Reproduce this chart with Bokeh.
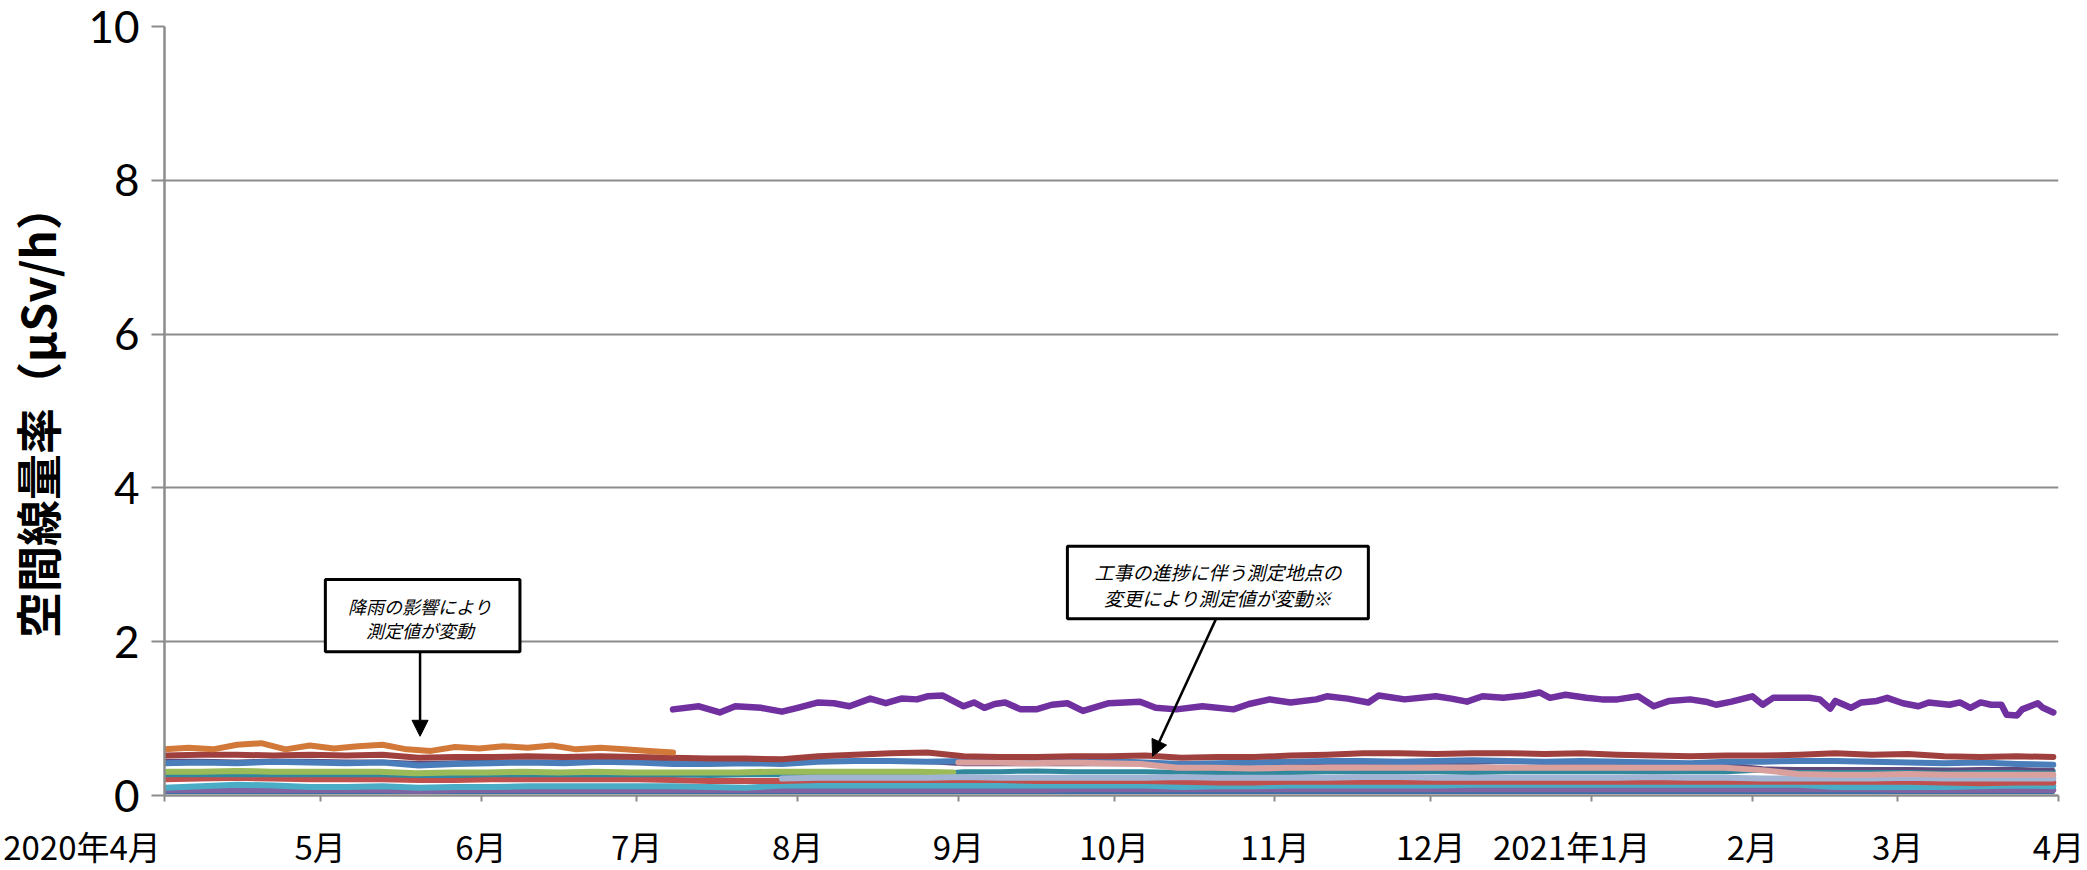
import pandas as pd
from bokeh.plotting import figure
from bokeh.models import Range1d, FixedTicker, Arrow, NormalHead
from bokeh.core.properties import value
from bokeh.embed import file_html
from bokeh.resources import INLINE

# ---------------- data ----------------
month_starts = ["2020-04-01", "2020-05-01", "2020-06-01", "2020-07-01", "2020-08-01",
                "2020-09-01", "2020-10-01", "2020-11-01", "2020-12-01", "2021-01-01",
                "2021-02-01", "2021-03-01", "2021-04-01"]
month_labels = ["2020年4月", "5月", "6月", "7月", "8月", "9月", "10月", "11月", "12月",
                "2021年1月", "2月", "3月", "4月"]
y_ticks = [0, 2, 4, 6, 8, 10]

# big purple series (explicit dates)
purple_dates = [
    "2020-07-08", "2020-07-13", "2020-07-17", "2020-07-20", "2020-07-25", "2020-07-29",
    "2020-08-01", "2020-08-05", "2020-08-08", "2020-08-11", "2020-08-15", "2020-08-18",
    "2020-08-21", "2020-08-24", "2020-08-26", "2020-08-29",
    "2020-09-02", "2020-09-04", "2020-09-06", "2020-09-08", "2020-09-10", "2020-09-13",
    "2020-09-16", "2020-09-19", "2020-09-22", "2020-09-25", "2020-09-30",
    "2020-10-06", "2020-10-09", "2020-10-13", "2020-10-18", "2020-10-24", "2020-10-27", "2020-10-31",
    "2020-11-04", "2020-11-09", "2020-11-11", "2020-11-15", "2020-11-19", "2020-11-21", "2020-11-26",
    "2020-12-02", "2020-12-05", "2020-12-08", "2020-12-11", "2020-12-15", "2020-12-19",
    "2020-12-22", "2020-12-24", "2020-12-27", "2020-12-31",
    "2021-01-03", "2021-01-06", "2021-01-10", "2021-01-13", "2021-01-16", "2021-01-20",
    "2021-01-23", "2021-01-25", "2021-01-28",
    "2021-02-01", "2021-02-03", "2021-02-05", "2021-02-09", "2021-02-12", "2021-02-14",
    "2021-02-16", "2021-02-17", "2021-02-20", "2021-02-22", "2021-02-25", "2021-02-27",
    "2021-03-02", "2021-03-05", "2021-03-07", "2021-03-11", "2021-03-13", "2021-03-15",
    "2021-03-17", "2021-03-19", "2021-03-21", "2021-03-22", "2021-03-24", "2021-03-25",
    "2021-03-28", "2021-03-29", "2021-03-31"]
purple_vals = [
    1.12, 1.16, 1.08, 1.16, 1.14, 1.09,
    1.14, 1.21, 1.20, 1.16, 1.26, 1.20, 1.26, 1.25, 1.29, 1.30,
    1.16, 1.21, 1.14, 1.19, 1.21, 1.12, 1.12, 1.18, 1.20, 1.10, 1.20,
    1.22, 1.14, 1.12, 1.16, 1.12, 1.19, 1.25,
    1.21, 1.25, 1.29, 1.26, 1.21, 1.30, 1.25,
    1.29, 1.26, 1.22, 1.29, 1.27, 1.30, 1.34, 1.27, 1.31, 1.27,
    1.25, 1.25, 1.29, 1.16, 1.23, 1.25, 1.22, 1.18, 1.22,
    1.29, 1.18, 1.27, 1.27, 1.27, 1.25, 1.13, 1.23, 1.14, 1.21, 1.23, 1.27,
    1.20, 1.16, 1.21, 1.18, 1.21, 1.14, 1.21, 1.18, 1.18, 1.05, 1.04, 1.12, 1.20, 1.14, 1.08]

# series sampled evenly between a start and end date
orange_vals = [0.60, 0.62, 0.60, 0.66, 0.68, 0.60, 0.65, 0.61, 0.64, 0.66, 0.60,
               0.58, 0.63, 0.61, 0.64, 0.62, 0.65, 0.60, 0.62, 0.60, 0.58, 0.56]
darkred_vals = [0.52, 0.53, 0.53, 0.52, 0.53, 0.52, 0.53, 0.49, 0.50, 0.50,
                0.51, 0.50, 0.51, 0.50, 0.49, 0.48, 0.48, 0.47, 0.51, 0.53,
                0.55, 0.56, 0.51, 0.50, 0.50, 0.51, 0.51, 0.52, 0.49, 0.50,
                0.50, 0.52, 0.53, 0.55, 0.55, 0.54, 0.55, 0.55, 0.54, 0.55,
                0.53, 0.52, 0.51, 0.52, 0.52, 0.53, 0.55, 0.53, 0.54, 0.51,
                0.50, 0.51, 0.50]
blue_vals = [0.42, 0.43, 0.42, 0.44, 0.43, 0.42, 0.43, 0.39, 0.41, 0.42,
             0.43, 0.42, 0.44, 0.43, 0.41, 0.41, 0.42, 0.41, 0.44, 0.45,
             0.45, 0.44, 0.45, 0.44, 0.45, 0.44, 0.45, 0.43, 0.41, 0.42,
             0.43, 0.44, 0.45, 0.45, 0.44, 0.45, 0.46, 0.45, 0.44, 0.45,
             0.44, 0.43, 0.42, 0.44, 0.44, 0.45, 0.45, 0.44, 0.43, 0.42,
             0.43, 0.41, 0.40]
plum_vals = [0.46, 0.46, 0.45, 0.46, 0.46, 0.45, 0.45, 0.43, 0.44, 0.45,
             0.45, 0.45, 0.46, 0.45, 0.44, 0.44, 0.44, 0.44, 0.43, 0.43,
             0.43, 0.43, 0.40, 0.40, 0.40, 0.40, 0.40, 0.40, 0.39, 0.40,
             0.41, 0.41, 0.42, 0.42, 0.42, 0.42, 0.42, 0.43, 0.42, 0.42,
             0.42, 0.41, 0.40, 0.41, 0.36, 0.35, 0.35, 0.35, 0.35, 0.34,
             0.35, 0.35, 0.34]
green_vals = [0.31, 0.31, 0.32, 0.31, 0.31, 0.31, 0.31, 0.29, 0.30, 0.30, 0.31, 0.30,
              0.31, 0.30, 0.30, 0.30, 0.30, 0.31, 0.31, 0.31, 0.31, 0.31, 0.30]
teal_vals = [0.27, 0.27, 0.27, 0.27, 0.27, 0.27, 0.27, 0.26, 0.26, 0.27,
             0.27, 0.27, 0.27, 0.27, 0.27, 0.26, 0.27, 0.27, 0.27, 0.27,
             0.27, 0.27, 0.31, 0.31, 0.32, 0.31, 0.31, 0.31, 0.30, 0.30,
             0.30, 0.30, 0.31, 0.31, 0.31, 0.31, 0.30, 0.31, 0.31, 0.31,
             0.31, 0.31, 0.31, 0.31, 0.33, 0.33, 0.33, 0.32, 0.33, 0.33,
             0.32, 0.33, 0.32]
pink_vals = [0.43, 0.43, 0.42, 0.43, 0.42, 0.41, 0.36, 0.36, 0.35, 0.36,
             0.36, 0.36, 0.36, 0.36, 0.36, 0.36, 0.36, 0.36, 0.36, 0.36,
             0.36, 0.36, 0.33, 0.28, 0.27, 0.27, 0.28, 0.27, 0.27, 0.27, 0.27]
lightblue_vals = [0.22, 0.23, 0.23, 0.23, 0.23, 0.24, 0.23, 0.23, 0.23, 0.23,
                  0.23, 0.24, 0.23, 0.23, 0.23, 0.23, 0.24, 0.24, 0.23, 0.23,
                  0.23, 0.23, 0.23, 0.23, 0.24, 0.23, 0.23, 0.22, 0.22, 0.22,
                  0.22, 0.23, 0.22, 0.22, 0.22, 0.22]
red_vals = [0.21, 0.22, 0.23, 0.22, 0.21, 0.21, 0.21, 0.20, 0.20, 0.21,
            0.21, 0.21, 0.21, 0.21, 0.20, 0.19, 0.19, 0.19, 0.20, 0.20,
            0.20, 0.20, 0.20, 0.20, 0.19, 0.19, 0.19, 0.19, 0.18, 0.17,
            0.17, 0.18, 0.18, 0.18, 0.18, 0.18, 0.18, 0.18, 0.18, 0.18,
            0.18, 0.18, 0.18, 0.18, 0.18, 0.18, 0.18, 0.18, 0.18, 0.17,
            0.16, 0.17, 0.17]
cyan_vals = [0.10, 0.12, 0.14, 0.13, 0.11, 0.11, 0.12, 0.10, 0.11, 0.11,
             0.12, 0.12, 0.12, 0.12, 0.12, 0.11, 0.10, 0.13, 0.13, 0.13,
             0.13, 0.13, 0.13, 0.13, 0.13, 0.13, 0.13, 0.13, 0.11, 0.12,
             0.12, 0.13, 0.13, 0.13, 0.13, 0.13, 0.14, 0.14, 0.14, 0.14,
             0.14, 0.14, 0.14, 0.14, 0.14, 0.14, 0.11, 0.11, 0.11, 0.11,
             0.12, 0.13, 0.12]
violet_vals = [0.07, 0.07, 0.07, 0.07, 0.07, 0.07, 0.07, 0.06, 0.07, 0.07,
               0.07, 0.07, 0.07, 0.07, 0.07, 0.07, 0.07, 0.07, 0.07, 0.07,
               0.07, 0.07, 0.07, 0.07, 0.07, 0.08, 0.08, 0.08, 0.08, 0.08,
               0.08, 0.08, 0.08, 0.08, 0.08, 0.08, 0.08, 0.08, 0.08, 0.08,
               0.08, 0.08, 0.08, 0.08, 0.08, 0.08, 0.08, 0.08, 0.07, 0.07,
               0.07, 0.07, 0.07]
navy_vals = [0.04, 0.04, 0.04, 0.04, 0.04, 0.04, 0.04, 0.04, 0.04, 0.04,
             0.04, 0.04, 0.04, 0.04, 0.04, 0.04, 0.04, 0.04, 0.04, 0.04,
             0.04, 0.04, 0.04, 0.04, 0.04, 0.04]

# (name, start, end, values, colour, width) in drawing order
series = [
    ("navy", "2020-04-01", "2021-03-31", navy_vals, "#3f6fa8", 3),
    ("violet", "2020-04-01", "2021-03-31", violet_vals, "#8064a2", 6),
    ("cyan", "2020-04-01", "2021-03-31", cyan_vals, "#4bacc6", 6),
    ("red", "2020-04-01", "2021-03-31", red_vals, "#c0504d", 6),
    ("teal", "2020-04-01", "2021-03-31", teal_vals, "#31889c", 5),
    ("green", "2020-04-01", "2020-08-31", green_vals, "#9bbb59", 6),
    ("lightblue", "2020-07-29", "2021-03-31", lightblue_vals, "#a1b4d4", 6),
    ("plum", "2020-04-01", "2021-03-31", plum_vals, "#604a7b", 3),
    ("blue", "2020-04-01", "2021-03-31", blue_vals, "#4a7ebb", 6),
    ("pink", "2020-09-01", "2021-03-31", pink_vals, "#d9a09e", 6),
    ("darkred", "2020-04-01", "2021-03-31", darkred_vals, "#a0403e", 6),
    ("orange", "2020-04-01", "2020-07-08", orange_vals, "#d2793a", 6),
]


def ms(s):
    return pd.Timestamp(s).value // 10**6


# ---------------- figure ----------------
p = figure(frame_width=1894, frame_height=769, output_backend="svg", toolbar_location=None,
           x_range=Range1d(ms("2020-04-01"), ms("2021-04-01")), y_range=Range1d(0, 10),
           min_border_left=160, min_border_top=26, min_border_right=26, min_border_bottom=40,
           background_fill_color="white", border_fill_color="white")
p.outline_line_color = None

for name, start, end, vals, col, w in series:
    dts = pd.date_range(start, end, periods=len(vals))
    p.line(dts, vals, line_color=col, line_width=w, line_join="round", line_cap="round")

p.line(pd.to_datetime(purple_dates), purple_vals, line_color="#7030a0", line_width=6.5,
       line_join="round", line_cap="round")

# axes
XFONT = "Noto Sans CJK JP"
XSIZE = "33px"
tick_ms = [ms(s) for s in month_starts]
# the first label and the 2021 label sit left of their ticks in the reference:
# pad them on the right so that their centre moves left
pad = {0: "\u3000" * 5, 9: "\u3000\u2009"}
overrides = {t: l + pad.get(i, "") for i, (t, l) in enumerate(zip(tick_ms, month_labels))}
p.xaxis.ticker = FixedTicker(ticks=tick_ms)
p.xaxis.major_label_overrides = overrides
p.xaxis.minor_tick_line_color = None
p.xaxis.major_tick_in = 0
p.xaxis.major_tick_out = 6
p.xaxis.axis_line_color = "#8c8c8c"
p.xaxis.axis_line_width = 2.5
p.xaxis.major_tick_line_color = "#8c8c8c"
p.xaxis.major_tick_line_width = 2
p.xaxis.major_label_text_font = XFONT
p.xaxis.major_label_text_font_size = XSIZE
p.xaxis.major_label_text_color = "black"
p.xaxis.major_label_standoff = 20

p.yaxis.ticker = FixedTicker(ticks=y_ticks)
p.yaxis.minor_tick_line_color = None
p.yaxis.major_tick_in = 0
p.yaxis.major_tick_out = 13
p.yaxis.axis_line_color = "#8c8c8c"
p.yaxis.axis_line_width = 2.5
p.yaxis.major_tick_line_color = "#8c8c8c"
p.yaxis.major_tick_line_width = 2
p.yaxis.major_label_text_font = "Lato"
p.yaxis.major_label_text_font_size = "44px"
p.yaxis.major_label_text_color = "black"
p.yaxis.major_label_standoff = 12
p.yaxis.axis_label = "空間線量率（μSv/h）"
p.yaxis.axis_label_text_font = "Noto Sans CJK JP"
p.yaxis.axis_label_text_font_size = "46px"
p.yaxis.axis_label_text_font_style = "bold"
p.yaxis.axis_label_text_color = "black"
p.yaxis.axis_label_standoff = 16

p.xgrid.visible = False
p.ygrid.ticker = FixedTicker(ticks=y_ticks)
p.ygrid.grid_line_color = "#8c8c8c"
p.ygrid.grid_line_width = 2

# ---------------- annotations ----------------
jp = value("Noto Sans CJK JP")
# box 1
p.quad(left=[ms("2020-05-02")], right=[ms("2020-06-08 12:00")], bottom=[1.87], top=[2.81],
       fill_color="white", line_color="black", line_width=3)
p.text(x=[ms("2020-05-20 06:00")] * 2, y=[2.47, 2.15], text=["降雨の影響により", "測定値が変動"],
       text_font=jp, text_font_style="italic", text_font_size="18px",
       text_align="center", text_baseline="middle", text_color="black")
p.add_layout(Arrow(end=NormalHead(size=16, fill_color="black", line_color="black"),
                   x_start=ms("2020-05-20 06:00"), y_start=1.87,
                   x_end=ms("2020-05-20 06:00"), y_end=0.77,
                   line_color="black", line_width=2.5))
# box 2
p.quad(left=[ms("2020-09-22")], right=[ms("2020-11-19")], bottom=[2.30], top=[3.24],
       fill_color="white", line_color="black", line_width=3)
p.text(x=[ms("2020-10-21")] * 2, y=[2.91, 2.58],
       text=["工事の進捗に伴う測定地点の", "変更により測定値が変動※"],
       text_font=jp, text_font_style="italic", text_font_size="19px",
       text_align="center", text_baseline="middle", text_color="black")
p.add_layout(Arrow(end=NormalHead(size=16, fill_color="black", line_color="black"),
                   x_start=ms("2020-10-20 16:00"), y_start=2.30,
                   x_end=ms("2020-10-08 10:00"), y_end=0.51,
                   line_color="black", line_width=2.5))

open("out.html", "w").write(file_html(p, INLINE))
